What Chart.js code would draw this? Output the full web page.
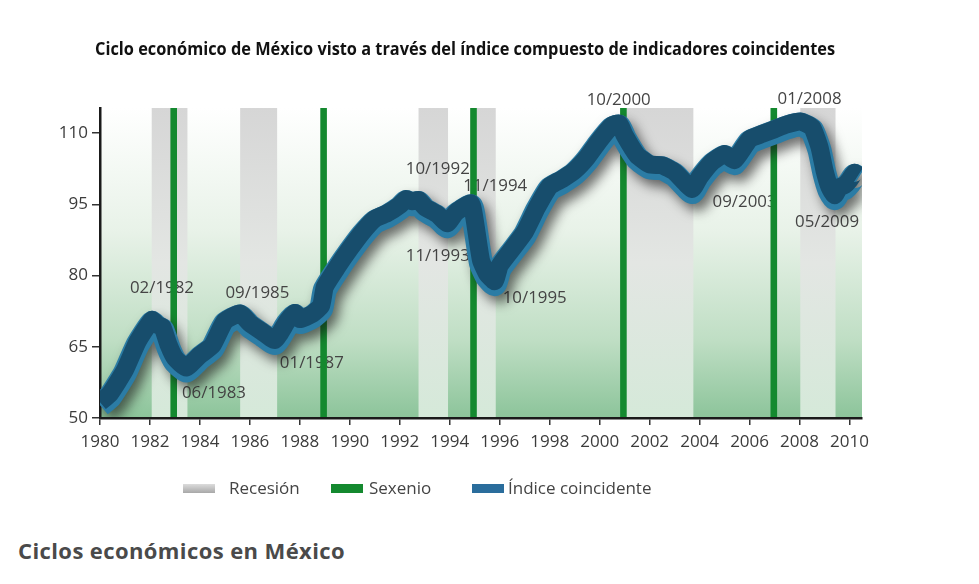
<!DOCTYPE html>
<html lang="es">
<head>
<meta charset="utf-8">
<title>Ciclos económicos en México</title>
<script src="https://cdn.jsdelivr.net/npm/chart.js@4.4.1/dist/chart.umd.min.js"></script>
<style>
    html, body { margin: 0; padding: 0; background: #fff; }
    body { width: 979px; height: 584px; position: relative; overflow: hidden; font-family: 'Open Sans', sans-serif; }
    #wrap { position: absolute; left: 0; top: 0; width: 979px; height: 520px; }
    #caption { position: absolute; left: 18px; top: 535px; margin: 0; font-size: 22px; letter-spacing: 0.4px; font-weight: 700; color: #4a4a4a; }
</style>
</head>
<body>
<div id="wrap"><canvas id="Chart"></canvas></div>
<h2 id="caption">Ciclos económicos en México</h2>
<script>
const chartTitle = "Ciclo económico de México visto a través del índice compuesto de indicadores coincidentes";
const seriesNames = ["Recesión", "Sexenio", "Índice coincidente"];

// índice coincidente (year as decimal)
const years = [1980.0, 1980.4, 1981.0, 1981.5, 1982.08, 1982.3, 1982.5, 1982.75, 1983.0, 1983.45,
    1984.0, 1984.5, 1985.0, 1985.6, 1986.0, 1986.5, 1987.0, 1987.5, 1987.8, 1988.0,
    1988.5, 1988.85, 1989.0, 1989.5, 1990.0, 1990.5, 1991.0, 1991.5, 1992.0, 1992.25,
    1992.5, 1992.75, 1993.0, 1993.5, 1993.9, 1994.25, 1994.85, 1995.0, 1995.25, 1995.5,
    1995.8, 1996.0, 1996.5, 1997.0, 1997.5, 1998.0, 1998.5, 1999.0, 1999.5, 2000.0,
    2000.5, 2000.78, 2001.0, 2001.5, 2002.0, 2002.5, 2003.0, 2003.7, 2004.0, 2004.5,
    2005.0, 2005.4, 2006.0, 2006.5, 2007.0, 2007.5, 2008.05, 2008.5, 2008.8, 2009.0,
    2009.2, 2009.4, 2009.6, 2009.8, 2010.0, 2010.2, 2010.35];
const indice = [52.7, 54.5, 59.5, 65.4, 70.0, 69.0, 68.5, 64.7, 62.0, 60.0,
    62.6, 64.7, 69.8, 71.4, 69.3, 67.5, 65.8, 69.8, 71.5, 70.2,
    71.3, 73.0, 77.0, 81.2, 85.0, 88.5, 91.3, 92.5, 94.2, 95.5,
    95.0, 95.3, 93.8, 92.3, 90.4, 92.7, 94.6, 91.0, 82.6, 79.7,
    78.2, 81.5, 85.0, 88.5, 93.8, 98.2, 99.7, 101.5, 104.3, 107.9,
    111.0, 111.4, 108.9, 104.7, 102.8, 102.6, 101.2, 97.6, 100.1, 103.3,
    105.0, 103.7, 108.1, 109.2, 110.2, 111.2, 111.8, 110.6, 106.4, 101.5,
    98.0, 96.3, 98.0, 98.4, 99.5, 101.0, 100.5];

const recessionStart = [1982.07, 1985.61, 1992.75, 1994.83, 2000.83, 2008.03];
const recessionEnd = [1983.5, 1987.09, 1993.93, 1995.84, 2003.75, 2009.44];
const sexenio = [1982.95, 1988.95, 1994.95, 2000.95, 2006.97];

const xTicks = [1980, 1982, 1984, 1986, 1988, 1990, 1992, 1994, 1996, 1998, 2000, 2002, 2004, 2006, 2008, 2010];
const yTicks = [50, 65, 80, 95, 110];

// turning point labels, anchored in data space
const noteText = ["02/1982", "06/1983", "09/1985", "01/1987", "10/1992", "11/1993", "11/1994", "10/1995", "10/2000", "09/2003", "01/2008", "05/2009"];
const noteYear = [1982.48, 1984.56, 1986.3, 1988.48, 1993.52, 1993.52, 1995.82, 1997.4, 2000.76, 2005.8, 2008.4, 2009.1];
const noteValue = [77.4, 55.3, 76.4, 61.6, 102.5, 84.0, 98.8, 75.3, 117.0, 95.5, 117.2, 91.3];

const fontFam = "'Open Sans', 'Noto Sans', sans-serif";

const points = years.map((y, i) => ({ x: y, y: indice[i] }));

const decor = {
    id: "decor",
    beforeDraw(chart) {
        const { ctx, chartArea: a, scales: { x } } = chart;
        ctx.save();
        const bg = ctx.createLinearGradient(0, a.top, 0, a.bottom);
        bg.addColorStop(0, "#ffffff");
        bg.addColorStop(0.4, "#e8f2e8");
        bg.addColorStop(0.75, "#bfdec4");
        bg.addColorStop(1, "#8cc49a");
        ctx.fillStyle = bg;
        ctx.fillRect(a.left, a.top, a.right - a.left, a.bottom - a.top);

        const band = ctx.createLinearGradient(0, a.top, 0, a.bottom);
        band.addColorStop(0, "#d6d6d6");
        band.addColorStop(0.5, "#e3e6e3");
        band.addColorStop(1, "#d5e9d9");
        ctx.fillStyle = band;
        recessionStart.forEach((s, i) => {
            const x0 = x.getPixelForValue(s);
            const x1 = x.getPixelForValue(recessionEnd[i]);
            ctx.fillRect(x0, a.top, x1 - x0, a.bottom - a.top);
        });
        ctx.restore();
    },
    beforeDatasetsDraw(chart) {
        const { ctx, chartArea: a, scales: { x, y } } = chart;
        ctx.save();
        ctx.font = "17px " + fontFam;
        ctx.fillStyle = "#444";
        ctx.textAlign = "center";
        ctx.textBaseline = "middle";
        noteText.forEach((t, i) => {
            ctx.fillText(t, x.getPixelForValue(noteYear[i]), y.getPixelForValue(noteValue[i]), 64);
        });
        ctx.fillStyle = "#14892f";
        sexenio.forEach(s => {
            const px = x.getPixelForValue(s);
            ctx.fillRect(px - 3.3, a.top, 6.6, a.bottom - a.top - 1);
        });
        ctx.restore();
    },
    beforeDatasetDraw(chart, args) {
        const ctx = chart.ctx;
        ctx.save();
        if (args.index === 0) {
            ctx.translate(0, -3);
        } else {
            ctx.shadowColor = "rgba(20,20,20,0.6)";
            ctx.shadowBlur = 12;
            ctx.shadowOffsetX = 5;
            ctx.shadowOffsetY = 7;
        }
    },
    afterDatasetDraw(chart) {
        chart.ctx.restore();
    },
    afterDraw(chart) {
        const ctx = chart.ctx;
        ctx.save();
        // title
        ctx.font = "bold 18px " + fontFam;
        ctx.fillStyle = "#111";
        ctx.textAlign = "center";
        ctx.textBaseline = "middle";
        ctx.fillText(chartTitle, 465, 50, 740);

        // legend
        const boxY = 484, boxH = 9, boxW = 32;
        const boxX = [183, 331, 472];
        const textX = [229, 369, 508];
        const g = ctx.createLinearGradient(0, boxY, 0, boxY + boxH);
        g.addColorStop(0, "#dcdcdc");
        g.addColorStop(1, "#a8a8a8");
        const fills = [g, "#14892f", "#2a6d9c"];
        ctx.font = "17px " + fontFam;
        ctx.textAlign = "left";
        seriesNames.forEach((n, i) => {
            ctx.fillStyle = fills[i];
            ctx.fillRect(boxX[i], boxY, boxW, boxH);
            ctx.fillStyle = "#444";
            ctx.fillText(n, textX[i], boxY + boxH / 2 + 1);
        });
        ctx.restore();
    }
};

const chartCanvas = document.getElementById("Chart");
const config = new Chart(chartCanvas, {
    type: "line",
    data: {
        datasets: [{
            label: seriesNames[2],
            data: points,
            borderColor: "#174d6c",
            borderWidth: 18,
            pointRadius: 0,
            tension: 0.15,
            fill: false,
            clip: { left: 0, top: 20, right: 0, bottom: 0 }
        }, {
            label: seriesNames[2] + " (borde)",
            data: points,
            borderColor: "#2b7ca5",
            borderWidth: 24,
            pointRadius: 0,
            tension: 0.15,
            fill: false,
            clip: { left: 0, top: 20, right: 0, bottom: 0 }
        }]
    },
    options: {
        responsive: true,
        maintainAspectRatio: false,
        animation: false,
        layout: { padding: { top: 108, right: 117, bottom: 62, left: 0 } },
        plugins: {
            legend: { display: false },
            title: { display: false },
            tooltip: { enabled: false }
        },
        scales: {
            x: {
                type: "linear",
                min: 1980,
                max: 2010.5,
                afterBuildTicks: s => { s.ticks = xTicks.map(v => ({ value: v })); },
                afterFit: s => { s.height = 40; },
                grid: { drawOnChartArea: false, tickLength: 7, color: "#333", lineWidth: 1.5 },
                border: { display: true, color: "#1a1a1a", width: 2.5 },
                ticks: { padding: 7, color: "#3c3c3c", font: { family: fontFam, size: 17 }, callback: v => String(v), maxRotation: 0 }
            },
            y: {
                min: 50,
                max: 115.3,
                afterBuildTicks: s => { s.ticks = yTicks.map(v => ({ value: v })); },
                afterFit: s => { s.width = 100; },
                grid: { drawOnChartArea: false, tickLength: 8, color: "#333", lineWidth: 1.5 },
                border: { display: true, color: "#1a1a1a", width: 2.5 },
                ticks: { padding: 4, color: "#3c3c3c", font: { family: fontFam, size: 17 }, callback: v => String(v) }
            }
        }
    },
    plugins: [decor]
});
</script>
</body>
</html>
